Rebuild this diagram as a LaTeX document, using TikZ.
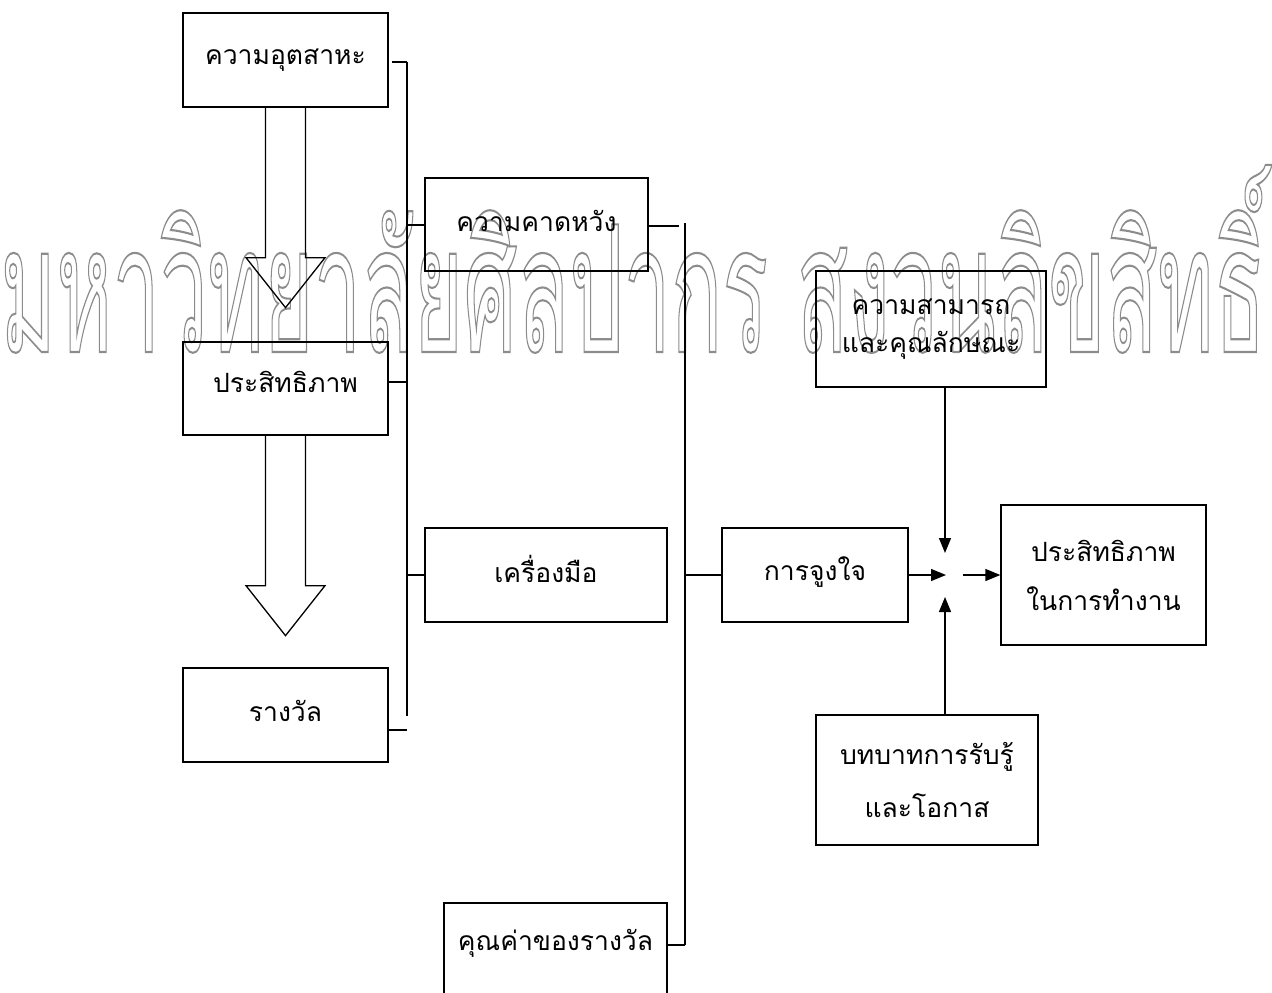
\documentclass[tikz,border=0pt]{standalone}
\usepackage{fontspec}
\usepackage{graphicx}
\setmainfont[Script=Thai]{Loma}
\usetikzlibrary{arrows.meta,calc}
\newcommand{\outlinetext}[1]{\special{pdf:literal direct 1 Tr 0.12 w 0.55 0.55 0.55 RG}#1\special{pdf:literal direct 0 Tr}}
\begin{document}
\begin{tikzpicture}[x=1pt,y=-1pt,
  box/.style={draw,line width=1.3pt,inner sep=0pt,align=center,font=\fontsize{26.5}{40}\selectfont},
  ln/.style={line width=1.3pt},
  arr/.style={line width=1.3pt,-{Triangle[length=15pt,width=12pt]}},
  blk/.style={draw,line width=1.3pt,line join=miter}]
\useasboundingbox (0,0) rectangle (1272,993);
\clip (0,0) rectangle (1272,993);
% watermark
\node[anchor=base,inner sep=0pt] (wm) at (633,352) {\resizebox*{1265pt}{188pt}{\outlinetext{มหาวิทยาลัยศิลปากร สงวนลิขสิทธิ์}}};
% left column
\node[box,minimum width=205pt,minimum height=94pt] (b1) at (285.5,60) {ความอุตสาหะ};
\node[box,minimum width=205pt,minimum height=93pt,text depth=14pt] (b2) at (285.5,388.5) {ประสิทธิภาพ};
\node[box,minimum width=205pt,minimum height=94pt,text depth=8pt] (b3) at (285.5,715) {รางวัล};
% block arrows
\draw[blk] ($(b1.south)+(-20,0)$) -- ($(b1.south)+(-20,150)$) -- ($(b1.south)+(-39.5,150)$)
  -- ($(b1.south)+(0,200)$) -- ($(b1.south)+(39.5,150)$) -- ($(b1.south)+(20,150)$) -- ($(b1.south)+(20,0)$);
\draw[blk] ($(b2.south)+(-20,0)$) -- ($(b2.south)+(-20,150)$) -- ($(b2.south)+(-39.5,150)$)
  -- ($(b2.south)+(0,200)$) -- ($(b2.south)+(39.5,150)$) -- ($(b2.south)+(20,150)$) -- ($(b2.south)+(20,0)$);
% middle column
\node[box,minimum width=223pt,minimum height=93pt,text depth=8pt] (m1) at (536.5,224.5) {ความคาดหวัง};
\node[box,minimum width=242pt,minimum height=94pt,text depth=12pt] (m2) at (546,575) {เครื่องมือ};
\node[box,minimum width=223pt,minimum height=110pt,text depth=36pt] (m3) at (555.5,958) {คุณค่าของรางวัล};
% first bracket
\coordinate (v1t) at (407,62);
\coordinate (v1b) at (407,716);
\draw[ln] (v1t) -- (v1b);
\draw[ln] ($(b1.east)+(3,2)$) -- (v1t);
\draw[ln] (b2.east |- 0,382) -- (407,382);
\draw[ln] (b3.east |- 0,730) -- (407,730);
\draw[ln] (407,225) -- (m1.west |- 0,225);
\draw[ln] (407,575) -- (m2.west);
% second bracket
\coordinate (v2t) at (685,223);
\coordinate (v2b) at (685,945);
\draw[ln] (v2t) -- (v2b);
\draw[ln] (m1.east |- 0,226) -- (679,226);
\draw[ln] (m3.east |- 0,945) -- (v2b);
% right part
\node[box,minimum width=186pt,minimum height=94pt,text depth=12pt] (mot) at (815,575) {การจูงใจ};
\draw[ln] (685,575) -- (mot.west);
\node[box,minimum width=230pt,minimum height=116pt,font=\fontsize{26.5}{38}\selectfont] (abl) at (931,329) {ความสามารถ\\และคุณลักษณะ};
\node[box,minimum width=222pt,minimum height=130pt,font=\fontsize{26.5}{53}\selectfont] (role) at (927,780) {บทบาทการรับรู้\\และโอกาส};
\node[box,minimum width=205pt,minimum height=140pt,font=\fontsize{26.5}{49}\selectfont] (perf) at (1103.5,575) {ประสิทธิภาพ\\ในการทำงาน};
\draw[arr] (mot.east) -- (946,575);
\draw[arr] (963,575) -- (perf.west);
\draw[arr] (abl.south -| 945,0) -- (945,553);
\draw[arr] (role.north -| 945,0) -- (945,597);
\end{tikzpicture}
\end{document}
